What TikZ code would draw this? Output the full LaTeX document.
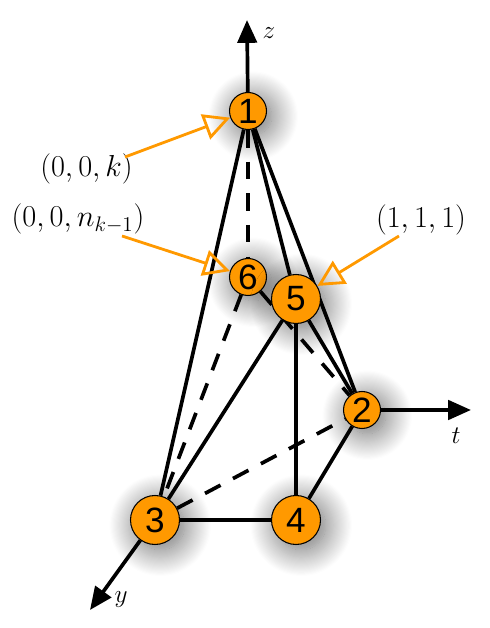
\documentclass[tikz,border=0pt]{standalone}
\usepackage[no-math]{fontspec}
\newfontfamily\vertexfont{Liberation Sans}
\usetikzlibrary{arrows.meta, backgrounds, shadows.blur}
\definecolor{vertexfill}{HTML}{FF9900}
\tikzset{
  vertex/.style={
    circle, draw=black, line width=0.6pt, fill=vertexfill, inner sep=0pt,
    font=\vertexfont\fontsize{20}{20}\selectfont, text=black,
    blur shadow={shadow xshift=3pt, shadow yshift=-3pt, shadow blur radius=15pt,
                 shadow blur steps=25, shadow opacity=60},
  },
  vsmall/.style={vertex, minimum size=7.4mm},
  vbig/.style={vertex, minimum size=9.8mm},
  %
  edge/.style={draw=black, line width=2.1pt},
  hidden/.style={edge, dash pattern=on 10pt off 8pt},
  axis/.style={draw=black, line width=2.1pt, -{Triangle[length=13pt, width=11pt]}},
  pointer/.style={draw=vertexfill, line width=1.6pt,
                  -{Triangle[open, length=15pt, width=15pt]}},
  %
  coordlbl/.style={font=\LARGE, inner sep=0pt},
  axislbl/.style={font=\Large, inner sep=0pt},
}
\begin{document}
\begin{tikzpicture}[x=1cm, y=1cm]

  \useasboundingbox (0,0) rectangle (9.78,12.56);

  \node[vsmall] (v1) at (4.96,10.34) {1};
  \node[vsmall] (v6) at (4.96,7.02) {6};
  \node[vbig]   (v5) at (5.92,6.58) {5};
  \node[vsmall] (v2) at (7.24,4.36) {2};
  \node[vbig]   (v3) at (3.10,2.16) {3};
  \node[vbig]   (v4) at (5.92,2.16) {4};

  \coordinate (ztip) at (4.94,12.16);
  \coordinate (ttip) at (9.42,4.36);
  \coordinate (ytip) at (1.80,0.36);

  \begin{scope}[on background layer]
    \draw[axis] (v1) -- (ztip);
    \draw[axis] (v2) -- (ttip);
    \draw[axis] (v3) -- (ytip);
    \foreach \a/\b in {v1/v3, v1/v5, v1/v2, v5/v3, v5/v4, v5/v2, v3/v4, v4/v2} {
      \draw[edge] (\a) -- (\b);
    }
    \foreach \a/\b in {v1/v6, v6/v3, v6/v2, v3/v2} {
      \draw[hidden] (\a) -- (\b);
    }
  \end{scope}

  \node[axislbl] (zlbl) at (5.38,11.90) {$z$};
  \node[axislbl] (tlbl) at (9.12,3.84) {$t$};
  \node[axislbl] (ylbl) at (2.42,0.56) {$y$};

  \node[coordlbl] (pk)  at (1.73,9.18) {$(0,0,k)$};
  \node[coordlbl] (pn)  at (1.56,8.18) {$(0,0,n_{k-1})$};
  \node[coordlbl] (pone) at (8.42,8.16) {$(1,1,1)$};

  \coordinate (pkfoot) at (2.50,9.42);
  \coordinate (pnfoot) at (2.44,7.84);
  \coordinate (ponefoot) at (7.98,7.84);

  \draw[pointer] (pkfoot) -- (v1);
  \draw[pointer] (pnfoot) -- (v6);
  \draw[pointer] (ponefoot) -- (v5);

\end{tikzpicture}
\end{document}
